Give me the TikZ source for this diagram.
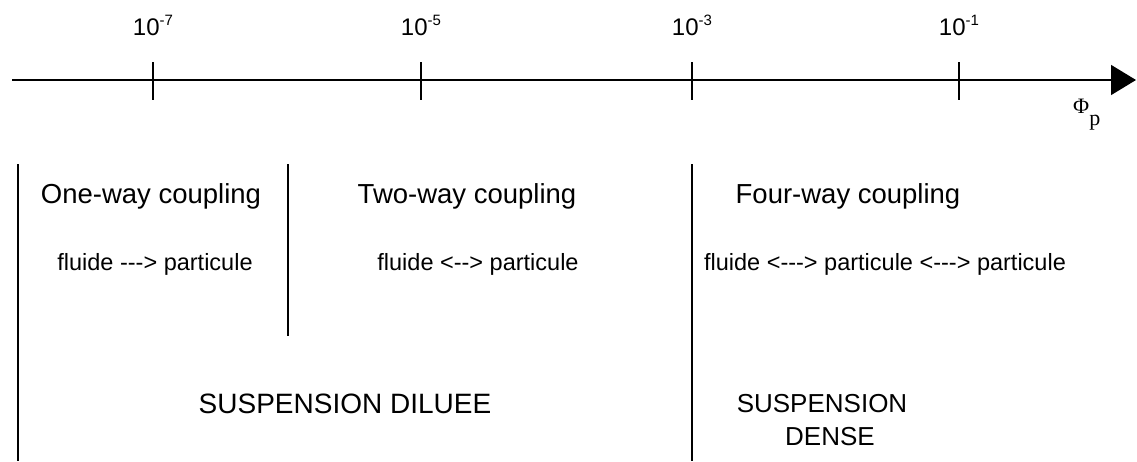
\documentclass[tikz,border=0pt]{standalone}
\usepackage{fontspec}
\setmainfont{Liberation Sans}
\newfontfamily\phifont{Liberation Serif}
\usetikzlibrary{arrows.meta}
\begin{document}
\begin{tikzpicture}[x=1pt,y=-1pt,
  rule/.style={line width=1.5pt,black},
  ticklabel/.style={font=\fontsize{24}{26}\selectfont,inner sep=0pt,anchor=base},
  head/.style={font=\fontsize{27.5}{30}\selectfont,inner sep=0pt,anchor=base},
  sub/.style={font=\fontsize{23.5}{25}\selectfont,inner sep=0pt,anchor=base},
  regime/.style={font=\fontsize{28}{30}\selectfont,inner sep=0pt,anchor=base}]
\useasboundingbox (0,0) rectangle (1137,461);
% axis
\coordinate (a0) at (12,80);
\coordinate (a1) at (1136,80);
\draw[rule,-{Triangle[length=25pt,width=30pt]}] (a0) -- (a1);
\foreach \x/\e/\n in {153/7/t1,421/5/t2,692/3/t3,959/1/t4}{
  \draw[rule] (\x,62) -- (\x,100);
  \node[ticklabel] (\n) at (\x,35) {10\raisebox{10pt}{\fontsize{15}{16}\selectfont -\e}};
}
\node[inner sep=0pt,anchor=base west,font=\phifont\fontsize{22}{24}\selectfont] (phi) at (1073,113) {Φ\raisebox{-12pt}{p}};
% separators
\draw[rule] (18,164) -- (18,461);
\draw[rule] (288,164) -- (288,336);
\draw[rule] (692,164) -- (692,461);
% texts
\node[head] (h1) at (151,203) {One-way coupling};
\node[sub] (s1) at (155,270) {fluide -{}-{}-> particule};
\node[head] (h2) at (467,203) {Two-way coupling};
\node[sub] (s2) at (478,270) {fluide <-{}-> particule};
\node[head] (h3) at (848,203) {Four-way coupling};
\node[sub] (s3) at (885,270) {fluide <-{}-{}-> particule <-{}-{}-> particule};
\node[regime] (r1) at (345,413) {SUSPENSION DILUEE};
\node[regime,font=\fontsize{26}{28}\selectfont] (r2) at (822,412) {SUSPENSION};
\node[regime,font=\fontsize{26}{28}\selectfont] (r3) at (830,445) {DENSE};
\end{tikzpicture}
\end{document}
